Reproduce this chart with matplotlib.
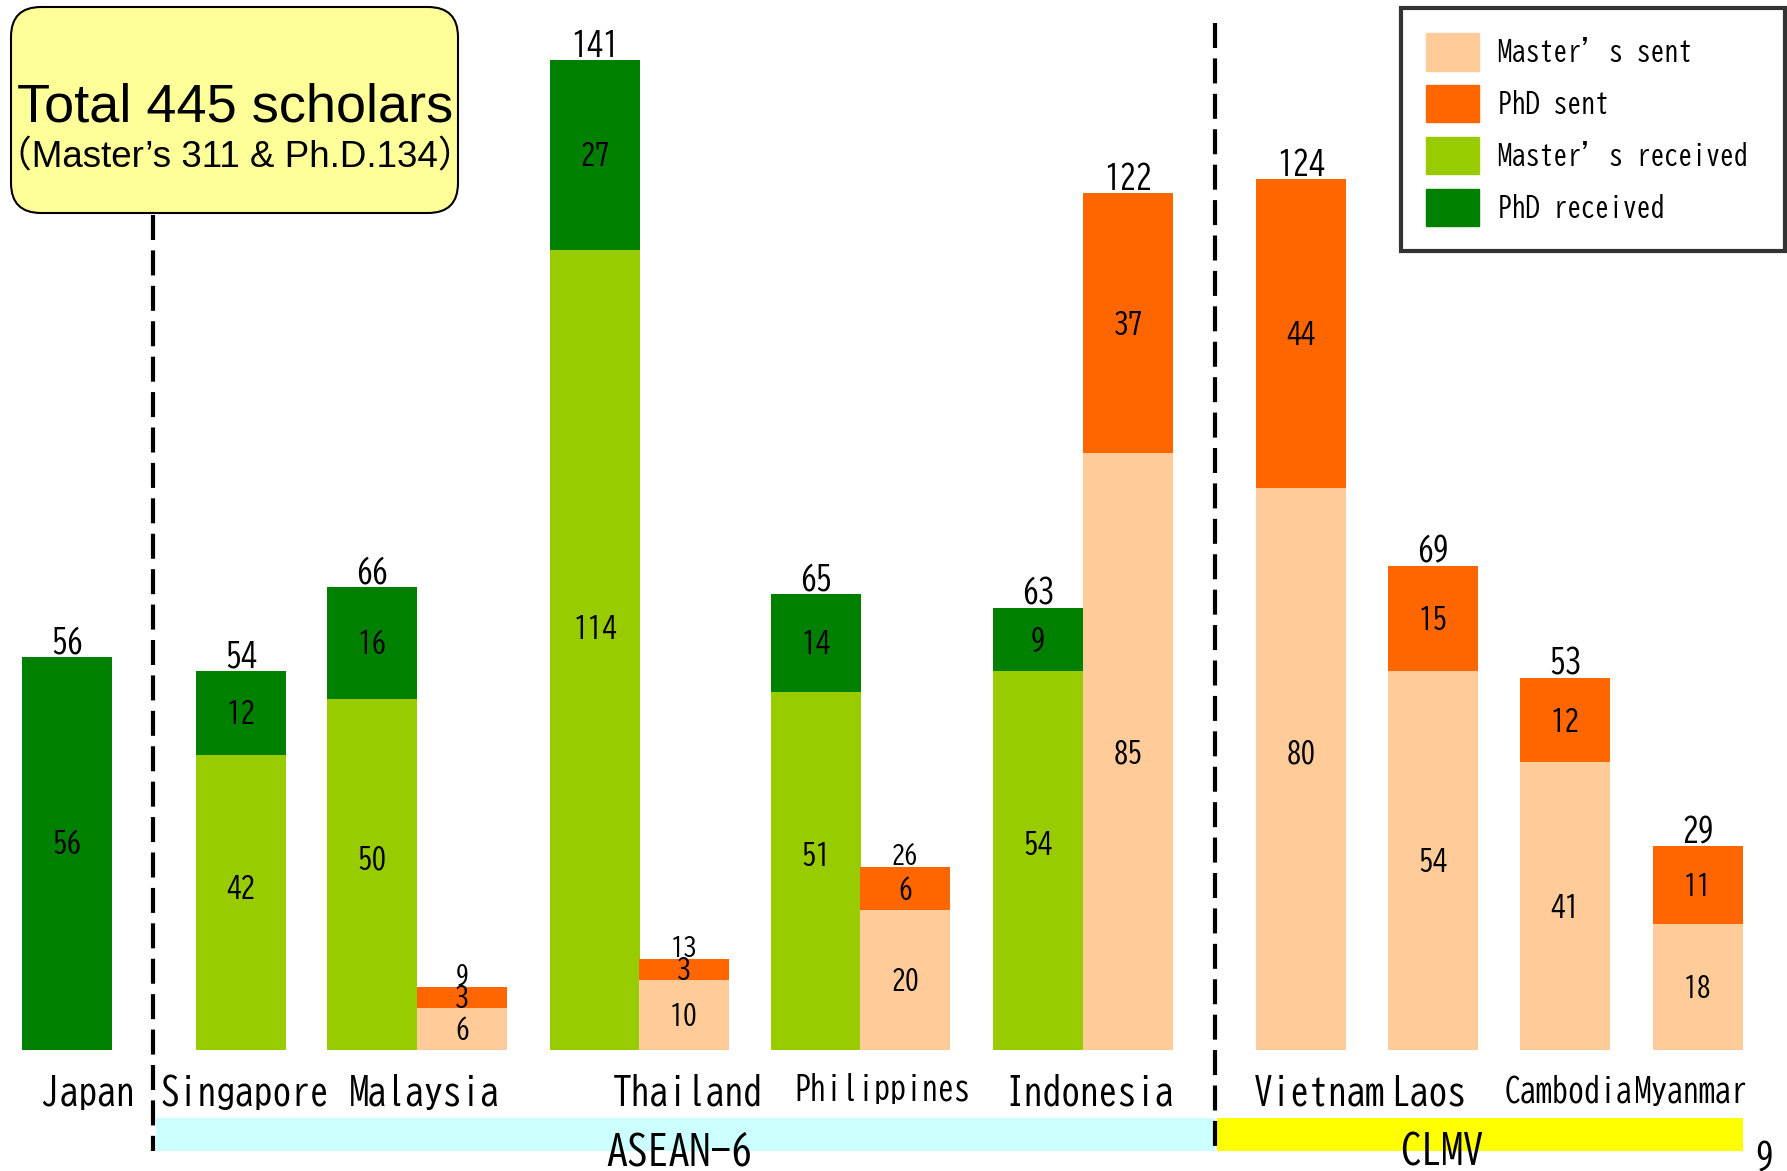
import matplotlib.pyplot as plt
from matplotlib.patches import Patch, FancyBboxPatch, Rectangle
from matplotlib.lines import Line2D
from matplotlib.transforms import IdentityTransform

# data
countries = ['Japan', 'Singapore', 'Malaysia', 'Thailand', 'Philippines',
             'Indonesia', 'Vietnam', 'Laos', 'Cambodia', 'Myanmar']
masters_received = [0, 42, 50, 114, 51, 54, 0, 0, 0, 0]
phd_received = [56, 12, 16, 27, 14, 9, 0, 0, 0, 0]
masters_sent = [0, 0, 6, 10, 20, 85, 80, 54, 41, 18]
phd_sent = [0, 0, 3, 3, 6, 37, 44, 15, 12, 11]

# layout (output pixels)
W, H = 1787, 1171
received_x = [67, 241, 372, 595, 816, 1038, None, None, None, None]
sent_x = [None, None, 462, 684, 905, 1128, 1301, 1433, 1565, 1698]
label_x = [88, 245, 425, 688, 882, 1090, 1319, 1429, 1569, 1691]
label_y = [1092, 1092, 1092, 1092, 1088, 1092, 1092, 1092, 1090, 1090]
label_size = [27, 27, 27, 27, 23, 27, 27, 27, 23, 23]
bar_w = 90

c_ms, c_ps, c_mr, c_pr = '#FFCC99', '#FF6600', '#99CC00', '#008000'
gothic = ['BIZ UDGothic', 'DejaVu Sans']

fig = plt.figure(figsize=(W / 100, H / 100), dpi=100)
ax = fig.add_axes([0, 0, 1, 1])
base_px = 1050
scale = (base_px - 60) / 141
ax.set_xlim(0, W)
ax.set_ylim(-(H - base_px) / scale, base_px / scale)
ax.axis('off')


def seg_label(x, bottom, value, size, lift=0.0):
    ax.text(x, bottom + value / 2 + lift, str(value), ha='center', va='center',
            fontsize=size, family=gothic)


def total_label(x, total, size):
    ax.text(x, total, str(total), ha='center', va='bottom',
            fontsize=size, family=gothic)


for i in range(len(countries)):
    if received_x[i] is not None:
        x = received_x[i]
        m, p = masters_received[i], phd_received[i]
        ax.bar(x, m, width=bar_w, color=c_mr, linewidth=0)
        ax.bar(x, p, bottom=m, width=bar_w, color=c_pr, linewidth=0)
        if m:
            seg_label(x, 0, m, 21, lift=1.6 + 0.014 * m)
            seg_label(x, m, p, 21)
        else:
            seg_label(x, 0, p, 21, lift=1.6)
        total_label(x, m + p, 23)
    if sent_x[i] is not None:
        x = sent_x[i]
        m, p = masters_sent[i], phd_sent[i]
        ax.bar(x, m, width=bar_w, color=c_ms, linewidth=0)
        ax.bar(x, p, bottom=m, width=bar_w, color=c_ps, linewidth=0)
        small = m + p < 30
        seg_label(x, 0, m, 20 if small else 21, lift=2.5 if m == 80 else 0.0)
        seg_label(x, m, p, 20 if small else 21)
        total_label(x, m + p, 19 if small and m + p < 29 else 23)

# country labels
for name, x, y, s in zip(countries, label_x, label_y, label_size):
    fig.text(x / W, 1 - y / H, name, ha='center', va='center',
             fontsize=s, family=gothic)

# region bands
fig.patches.append(Rectangle((156, H - 1151), 1059, 33, transform=IdentityTransform(),
                             facecolor='#CCFFFF', edgecolor='none', zorder=0))
fig.patches.append(Rectangle((1217, H - 1151), 526, 33, transform=IdentityTransform(),
                             facecolor='#FFFF00', edgecolor='none', zorder=0))
fig.text(679 / W, 1 - 1150 / H, 'ASEAN-6', ha='center', va='center', fontsize=30, family=gothic)
fig.text(1442 / W, 1 - 1150 / H, 'CLMV', ha='center', va='center', fontsize=30, family=gothic)
fig.text(1764 / W, 1 - 1156 / H, '9', ha='center', va='center', fontsize=26, family=gothic)

# dashed separators
for x, y0 in [(153, 215), (1215, 23)]:
    fig.lines.append(Line2D([x / W, x / W], [1 - y0 / H, 1 - 1151 / H],
                            transform=fig.transFigure, color='black',
                            linewidth=3, dashes=(6, 2.5)))

# summary box
fig.patches.append(FancyBboxPatch((11, H - 213), 447, 206,
                                  boxstyle='round,pad=0,rounding_size=30',
                                  transform=IdentityTransform(),
                                  facecolor='#FFFF99', edgecolor='black', linewidth=1.5))
fig.text(235 / W, 1 - 107 / H, 'Total 445 scholars', ha='center', va='center',
         fontsize=39, family=['Liberation Sans', 'DejaVu Sans'])
fig.text(235 / W, 1 - 158 / H, '（Master’s 311 & Ph.D.134）', ha='center', va='center',
         fontsize=26.5, family=['Liberation Sans', 'Noto Sans CJK JP', 'DejaVu Sans'])

# legend
handles = [Patch(color=c_ms, label='Master’s sent'),
           Patch(color=c_ps, label='PhD sent'),
           Patch(color=c_mr, label='Master’s received'),
           Patch(color=c_pr, label='PhD received')]
leg = fig.legend(handles=handles, loc='upper left',
                 bbox_to_anchor=(1401 / W, 1 - 254 / H, 384 / W, 246 / H), mode='expand',
                 prop={'family': gothic, 'size': 20},
                 frameon=True, fancybox=False,
                 edgecolor='black', handlelength=1.9, handleheight=1.7,
                 labelspacing=0.52, handletextpad=0.7, borderpad=0.9, borderaxespad=0)
leg.get_frame().set_linewidth(3)

fig.savefig('out.png', dpi=100)
